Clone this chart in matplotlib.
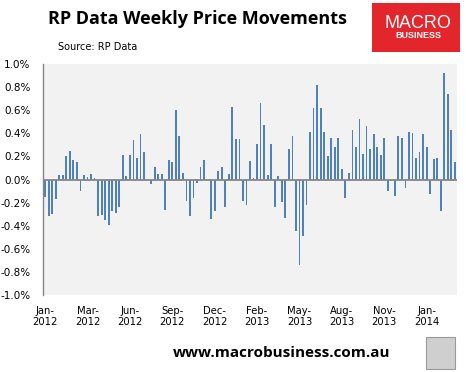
import matplotlib

matplotlib.use("Agg")
import pandas as pd
from matplotlib import pyplot as plt
from matplotlib.patches import Rectangle

# weekly change in RP Data home value index, %, first week of Jan 2012 onwards
weekly_change = [
    -0.15, -0.32, -0.30, -0.17, 0.04, 0.035, 0.20, 0.25, 0.165, 0.155,
    -0.10, 0.035, 0.025, 0.05, 0.01, -0.32, -0.31, -0.35, -0.39, -0.27,
    -0.29, -0.24, 0.21, 0.026, 0.21, 0.34, 0.19, 0.39, 0.235, 0.0,
    -0.035, 0.11, 0.05, 0.045, -0.265, 0.17, 0.155, 0.60, 0.38, 0.06,
    -0.19, -0.32, -0.16, -0.03, 0.105, 0.165, 0.0, -0.34, -0.27, 0.07,
    0.11, -0.24, 0.045, 0.63, 0.35, 0.35, -0.19, -0.22, 0.156, 0.01,
    0.31, 0.665, 0.475, 0.035, 0.31, -0.24, 0.026, -0.195, -0.335, 0.26,
    0.38, -0.45, -0.74, -0.49, -0.22, 0.41, 0.62, 0.815, 0.62, 0.41,
    0.20, 0.355, 0.28, 0.355, 0.095, -0.16, 0.052, 0.425, 0.28, 0.52,
    0.225, 0.465, 0.26, 0.39, 0.285, 0.216, 0.355, -0.10, 0.0, -0.14,
    0.38, 0.355, -0.075, 0.41, 0.40, 0.19, 0.236, 0.39, 0.28, -0.125,
    0.176, 0.185, -0.275, 0.92, 0.74, 0.427, 0.148,
]
week_dates = pd.date_range("2012-01-01", periods=len(weekly_change), freq="7D")
label_every = 12
y_ticks = [-1.0, -0.8, -0.6, -0.4, -0.2, 0.0, 0.2, 0.4, 0.6, 0.8, 1.0]

BAR_BLUE = "#4f81bd"
AXIS_GREY = "#868686"

fig = plt.figure(figsize=(4.66, 3.72), dpi=100)
fig.patch.set_facecolor("white")
ax = fig.add_axes([43 / 466, 77 / 372, 414 / 466, 231 / 372])
ax.set_facecolor("#f2f2f2")

positions = list(range(len(weekly_change)))
ax.bar(positions, weekly_change, width=0.5, color=BAR_BLUE, linewidth=0)
ax.axhline(0, color=AXIS_GREY, linewidth=1.3, zorder=3)

ax.set_xlim(-0.6, len(weekly_change) - 0.4)
ax.set_ylim(-1.0, 1.0)
ax.set_yticks(y_ticks)
ax.set_yticklabels([f"{v:.1f}%" for v in y_ticks], fontsize=7.5)
tick_idx = positions[::label_every]
ax.set_xticks(tick_idx)
ax.set_xticklabels(
    [week_dates[i].strftime("%b-\n%Y") for i in tick_idx],
    fontsize=7.2, linespacing=1.1,
)
ax.tick_params(axis="both", length=0, colors="black")
ax.tick_params(axis="x", pad=8)
ax.tick_params(axis="y", pad=9)

for side in ("top", "right", "bottom"):
    ax.spines[side].set_visible(False)
ax.spines["left"].set_color(AXIS_GREY)
ax.spines["left"].set_linewidth(1.0)

fig.text(197 / 466, 1 - 19 / 372, "RP Data Weekly Price Movements",
         ha="center", va="center", fontsize=13, fontweight="bold",
         family="Open Sans")
fig.text(58 / 466, 1 - 47 / 372, "Source: RP Data", ha="left", va="center",
         fontsize=7)

# MacroBusiness logo block
fig.patches.append(Rectangle((372 / 466, 1 - 52 / 372), 88 / 466, 49 / 372,
                             transform=fig.transFigure, facecolor="#e3262b",
                             edgecolor="none"))
fig.text(418 / 466, 1 - 23 / 372, "MACRO", ha="center", va="center",
         fontsize=13, color="white", family="Liberation Sans")
fig.text(418 / 466, 1 - 36 / 372, "BUSINESS", ha="center", va="center",
         fontsize=6.5, color="white", fontweight="bold", family="Liberation Sans")

fig.text(282 / 466, 1 - 353 / 372, "www.macrobusiness.com.au", ha="center",
         va="center", fontsize=11, fontweight="bold", family="Open Sans")
fig.patches.append(Rectangle((426 / 466, 1 - 369 / 372), 29 / 466, 32 / 372,
                             transform=fig.transFigure, facecolor="#cfcfcf",
                             edgecolor="#9a9a9a", linewidth=0.8))

fig.savefig("out.png", dpi=100)
